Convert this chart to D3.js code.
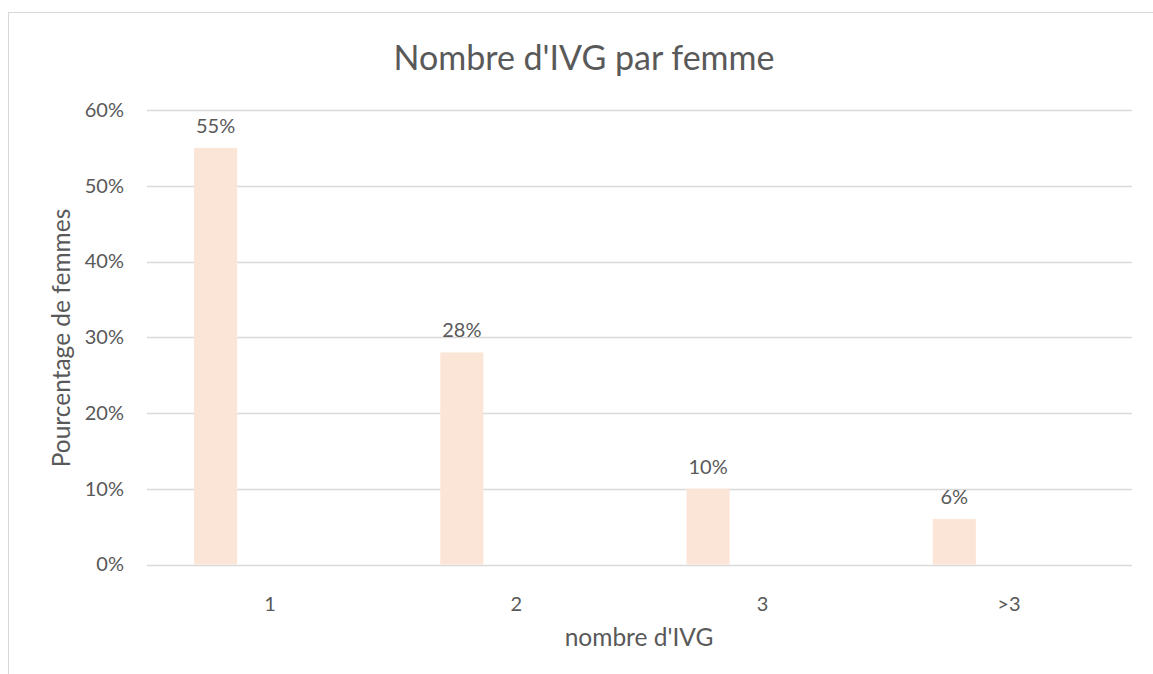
<!DOCTYPE html>
<html><head><meta charset="utf-8">
<script src="https://cdn.jsdelivr.net/npm/d3@7"></script>
<style>body{margin:0;background:#fff}svg{display:block}text{font-family:Lato,"Open Sans",sans-serif;fill:#595959}</style>
</head><body>
<script>
const categories = ["1","2","3",">3"];
const values = [0.55,0.28,0.10,0.06];
const yTicks = [0,0.1,0.2,0.3,0.4,0.5,0.6];
const title = "Nombre d'IVG par femme";
const yTitle = "Pourcentage de femmes";
const xTitle = "nombre d'IVG";

(function(){
const W=1153,H=674;
const svg=d3.select("body").append("svg").attr("width",W).attr("height",H);
svg.append("rect").attr("x",8.5).attr("y",12.5).attr("width",1160).attr("height",680)
  .attr("fill","#fff").attr("stroke","#D9D9D9").attr("stroke-width",1);

const pLeft=147,pRight=1132,pTop=110,pBottom=564.5;
const x=d3.scaleBand().domain(categories).range([pLeft,pRight]).padding(0);
const y=d3.scaleLinear().domain([0,0.6]).range([pBottom,pTop]);

svg.append("g").selectAll("line").data(yTicks).join("line")
  .attr("x1",pLeft).attr("x2",pRight).attr("y1",d=>Math.round(y(d))+0.5).attr("y2",d=>Math.round(y(d))+0.5)
  .attr("stroke","#D9D9D9").attr("stroke-width",1.3);

const yAxis=d3.axisLeft(y).tickValues(yTicks).tickFormat(d3.format(".0%")).tickSize(0).tickPadding(0);
const ga=svg.append("g").attr("transform",`translate(124,0)`).call(yAxis);
ga.select(".domain").remove();
ga.selectAll("text").attr("font-size",20).attr("fill","#595959").style("font-family","Lato");

const xAxis=d3.axisBottom(x).tickSize(0).tickPadding(0);
const gx=svg.append("g").attr("transform",`translate(0,597)`).call(xAxis);
gx.select(".domain").remove();
gx.selectAll("text").attr("font-size",20).attr("fill","#595959").style("font-family","Lato").attr("dy","0.71em");

const bw=x.bandwidth();
const data=categories.map((c,i)=>({c,v:values[i]}));
svg.append("g").selectAll("rect").data(data).join("rect")
  .attr("x",d=>x(d.c)+bw*0.191).attr("width",bw*0.175)
  .attr("y",d=>y(d.v)).attr("height",d=>pBottom-y(d.v)).attr("fill","#FBE5D6");

svg.append("g").selectAll("text").data(data).join("text")
  .attr("x",d=>x(d.c)+bw*0.191+bw*0.0875).attr("y",d=>y(d.v)-15)
  .attr("text-anchor","middle").attr("font-size",20).text(d=>d3.format(".0%")(d.v));

svg.append("text").attr("x",584).attr("y",70).attr("text-anchor","middle").attr("font-size",34).text(title);
svg.append("text").attr("transform","translate(70,338) rotate(-90)").attr("text-anchor","middle").attr("font-size",24.5).text(yTitle);
svg.append("text").attr("x",639).attr("y",646).attr("text-anchor","middle").attr("font-size",24.5).text(xTitle);
})();
</script>
</body></html>
